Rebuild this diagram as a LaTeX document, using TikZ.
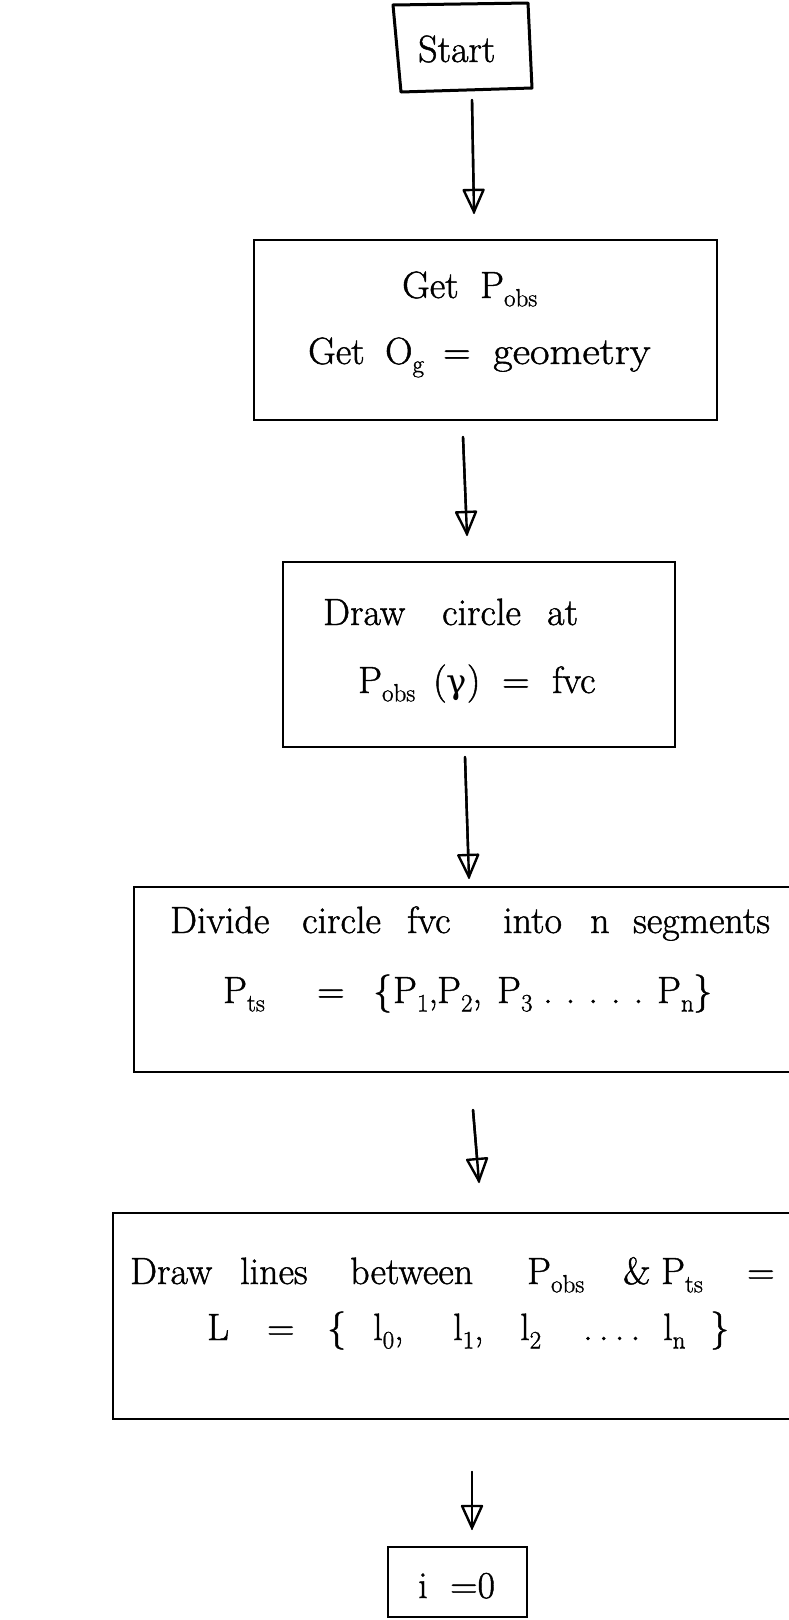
\documentclass[tikz,border=0pt]{standalone}
\usepackage{fontspec}
\newfontfamily\handfont[FakeBold=1.2]{Latin Modern Roman}
\newfontfamily\grkfont{DejaVu Serif}
\usetikzlibrary{arrows.meta}
\newcommand{\wbox}[2]{\makebox[#1pt][l]{#2}}
\newcommand{\lowsub}[1]{\raisebox{-0.22em}{\fontsize{25}{30}\selectfont #1}}
\begin{document}
\begin{tikzpicture}[x=1pt,y=-1pt,
  box/.style={draw=black, line width=2.6pt, inner sep=0pt},
  txt/.style={anchor=base west, inner sep=0pt, font=\handfont\fontsize{38}{46}\selectfont},
  stemline/.style={draw=black, line width=2.4pt, line cap=round},
  connector/.style={draw=black, line width=2.4pt, line cap=round,
    -{Triangle[open, round, length=26pt, width=23pt]}}]
\fill[white] (0,0) rectangle (789,1620);
\useasboundingbox (0,0) rectangle (789,1620);

% Start box (hand-drawn, slightly skewed)
\coordinate (s1) at (393,5);
\coordinate (s2) at (528,3);
\coordinate (s3) at (532,88);
\coordinate (s4) at (401,92);
\draw[box, line width=3pt, line join=round] (s1) -- (s2) -- (s3) -- (s4) -- cycle;
\node[txt] (tstart) at (418,62) {Start};

% Boxes
\node[box, minimum width=463pt, minimum height=180pt] (b2) at (485.5,330) {};
\node[box, minimum width=392pt, minimum height=185pt] (b3) at (479,654.5) {};
\node[box, minimum width=676pt, minimum height=185pt] (b4) at (472,979.5) {};
\node[box, minimum width=697pt, minimum height=206pt] (b5) at (461.5,1316) {};
\node[box, minimum width=139pt, minimum height=70pt] (b6) at (457.5,1582) {};

% Texts
\node[txt] (t2a) at (402,298) {\wbox{78}{Get}P\lowsub{obs}};
\node[txt] (t2b) at (308,364) {\wbox{77}{Get}\wbox{58}{O\lowsub{g}}\wbox{50}{=}\scalebox{1.12}[1]{geometry}};

\node[txt] (t3a) at (323,625) {\wbox{119}{Draw}\wbox{105}{circle}at};
\node[txt] (t3b) at (358,693) {\wbox{75}{P\lowsub{obs}}\wbox{69}{({\grkfont\fontsize{34}{40}\selectfont γ})}\wbox{50}{=}fvc};

\node[txt] (t4a) at (170,933) {\wbox{132}{Divide}\wbox{105}{circle}\wbox{96}{fvc}\wbox{87}{into}\wbox{43}{n}segments};
\node[txt] (t4b) at (223,1003) {\wbox{94}{P\lowsub{ts}}\wbox{56}{=}\wbox{20}{\{}\wbox{44}{P\lowsub{1},}\wbox{60}{P\lowsub{2},}\wbox{46}{P\lowsub{3}}\wbox{114}{\makebox[100pt][s]{.\hfill.\hfill.\hfill.\hfill.}}\wbox{36}{P\lowsub{n}}\}};

\node[txt] (t5a) at (130,1284) {\wbox{110}{Draw}\wbox{110}{lines}\wbox{177}{between}\wbox{96}{P\lowsub{obs}}\wbox{38}{\&}\wbox{86}{P\lowsub{ts}}=};
\node[txt] (t5b) at (207,1340) {\wbox{60}{L}\wbox{60}{=}\wbox{46}{\{}\wbox{80}{l\lowsub{0},}\wbox{67}{l\lowsub{1},}\wbox{63}{l\lowsub{2}}\wbox{80}{\makebox[57pt][s]{.\hfill.\hfill.\hfill.}}\wbox{47}{l\lowsub{n}}\}};

\node[txt] (t6) at (418,1598) {\wbox{32}{i}=0};

% Connector end points (arrows float between boxes)
\coordinate (a1s) at (472,100);  \coordinate (a1e) at (474,213);
\coordinate (a2s) at (463,437);  \coordinate (a2e) at (467,535);
\coordinate (a3s) at (465,757);  \coordinate (a3e) at (469,878);
\coordinate (a4s) at (473,1110); \coordinate (a4e) at (479,1182);
\coordinate (a5s) at (472,1472); \coordinate (a5e) at (472,1529);

\foreach \i in {1,...,5}{
  \draw[stemline] (a\i s) -- (a\i e);
  \draw[connector] (a\i s) -- (a\i e);
}
\end{tikzpicture}
\end{document}
